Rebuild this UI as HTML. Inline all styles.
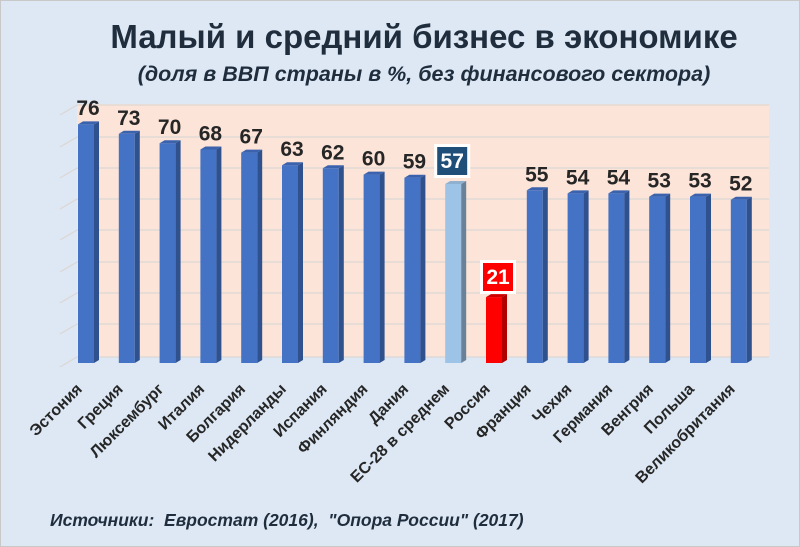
<!DOCTYPE html>
<html><head><meta charset="utf-8"><style>
html,body{margin:0;padding:0;background:#dde8f4;}
svg{display:block;}
text{font-family:"Liberation Sans",sans-serif;}
.v{font-size:21px;font-weight:bold;fill:#262626;text-anchor:middle;}
.l{font-size:16px;font-weight:bold;fill:#262626;text-anchor:end;}
.b rect{fill:#4472c4}.b .s{fill:#2f528f}.b .t{fill:#3a62ad}
</style></head><body>
<svg width="800" height="547" viewBox="0 0 800 547" xmlns="http://www.w3.org/2000/svg">
<rect x="0.5" y="0.5" width="799" height="546" fill="#dde8f4" stroke="#c8c8c8"/>
<text x="424" y="48" text-anchor="middle" font-size="33" font-weight="bold" fill="#1f2d3d">Малый и средний бизнес в экономике</text>
<text x="424" y="81" text-anchor="middle" font-size="21.5" font-weight="bold" font-style="italic" fill="#1f2d3d">(доля в ВВП страны в %, без финансового сектора)</text>
<rect x="77" y="104" width="692" height="253" fill="#fde4d8"/>
<g stroke="#dcd6d4" stroke-width="1.2">
<line x1="77" y1="105" x2="769" y2="105"/><line x1="77" y1="137" x2="769" y2="137"/>
<line x1="77" y1="168" x2="769" y2="168"/><line x1="77" y1="199" x2="769" y2="199"/>
<line x1="77" y1="230" x2="769" y2="230"/><line x1="77" y1="262" x2="769" y2="262"/>
<line x1="77" y1="293" x2="769" y2="293"/><line x1="77" y1="324" x2="769" y2="324"/>
<line x1="77" y1="357" x2="769" y2="357"/>
<line x1="60" y1="115" x2="77" y2="105"/><line x1="60" y1="147" x2="77" y2="137"/>
<line x1="60" y1="178" x2="77" y2="168"/><line x1="60" y1="209" x2="77" y2="199"/>
<line x1="60" y1="240" x2="77" y2="230"/><line x1="60" y1="272" x2="77" y2="262"/>
<line x1="60" y1="303" x2="77" y2="293"/><line x1="60" y1="334" x2="77" y2="324"/>
<line x1="60" y1="367" x2="77" y2="357"/>
</g>

<g class="b" transform="translate(78,0)"><rect y="124.4" width="16" height="238.6"/><polygon class="s" points="16,124.4 21,121.4 21,360 16,363"/><polygon class="t" points="0,124.4 5,121.4 21,121.4 16,124.4"/><text class="v" x="10" y="115">76</text><text class="l" transform="translate(5,390) rotate(-45)">Эстония</text></g>
<g class="b" transform="translate(118.8,0)"><rect y="133.8" width="16" height="229.2"/><polygon class="s" points="16,133.8 21,130.8 21,360 16,363"/><polygon class="t" points="0,133.8 5,130.8 21,130.8 16,133.8"/><text class="v" x="10" y="124.8">73</text><text class="l" transform="translate(5,390) rotate(-45)">Греция</text></g>
<g class="b" transform="translate(159.6,0)"><rect y="143.2" width="16" height="219.8"/><polygon class="s" points="16,143.2 21,140.2 21,360 16,363"/><polygon class="t" points="0,143.2 5,140.2 21,140.2 16,143.2"/><text class="v" x="10" y="134.2">70</text><text class="l" transform="translate(5,390) rotate(-45)">Люксембург</text></g>
<g class="b" transform="translate(200.4,0)"><rect y="149.5" width="16" height="213.5"/><polygon class="s" points="16,149.5 21,146.5 21,360 16,363"/><polygon class="t" points="0,149.5 5,146.5 21,146.5 16,149.5"/><text class="v" x="10" y="140.5">68</text><text class="l" transform="translate(5,390) rotate(-45)">Италия</text></g>
<g class="b" transform="translate(241.2,0)"><rect y="152.6" width="16" height="210.4"/><polygon class="s" points="16,152.6 21,149.6 21,360 16,363"/><polygon class="t" points="0,152.6 5,149.6 21,149.6 16,152.6"/><text class="v" x="10" y="143.6">67</text><text class="l" transform="translate(5,390) rotate(-45)">Болгария</text></g>
<g class="b" transform="translate(282,0)"><rect y="165.2" width="16" height="197.8"/><polygon class="s" points="16,165.2 21,162.2 21,360 16,363"/><polygon class="t" points="0,165.2 5,162.2 21,162.2 16,165.2"/><text class="v" x="10" y="156.2">63</text><text class="l" transform="translate(5,390) rotate(-45)">Нидерланды</text></g>
<g class="b" transform="translate(322.8,0)"><rect y="168.3" width="16" height="194.7"/><polygon class="s" points="16,168.3 21,165.3 21,360 16,363"/><polygon class="t" points="0,168.3 5,165.3 21,165.3 16,168.3"/><text class="v" x="10" y="159.3">62</text><text class="l" transform="translate(5,390) rotate(-45)">Испания</text></g>
<g class="b" transform="translate(363.6,0)"><rect y="174.6" width="16" height="188.4"/><polygon class="s" points="16,174.6 21,171.6 21,360 16,363"/><polygon class="t" points="0,174.6 5,171.6 21,171.6 16,174.6"/><text class="v" x="10" y="165.6">60</text><text class="l" transform="translate(5,390) rotate(-45)">Финляндия</text></g>
<g class="b" transform="translate(404.4,0)"><rect y="177.7" width="16" height="185.3"/><polygon class="s" points="16,177.7 21,174.7 21,360 16,363"/><polygon class="t" points="0,177.7 5,174.7 21,174.7 16,177.7"/><text class="v" x="10" y="168.7">59</text><text class="l" transform="translate(5,390) rotate(-45)">Дания</text></g>
<g transform="translate(445.2,0)"><rect y="184" width="16" height="179" fill="#9dc3e6"/><polygon fill="#6a8299" points="16,184 21,181 21,360 16,363"/><polygon fill="#8fb0cf" points="0,184 5,181 21,181 16,184"/><rect x="-11" y="144" width="36" height="34" fill="#fff"/><rect x="-8" y="147" width="30" height="28" fill="#1f4e79"/><text class="v" x="7" y="168" style="fill:#fff">57</text><text class="l" transform="translate(5,390) rotate(-45)">ЕС-28 в среднем</text></g>
<g transform="translate(486,0)"><rect y="297.1" width="16" height="65.9" fill="#ff0000"/><polygon fill="#b00000" points="16,297.1 21,294.1 21,360 16,363"/><polygon fill="#d00000" points="0,297.1 5,294.1 21,294.1 16,297.1"/><rect x="-6" y="260" width="36" height="34" fill="#fff"/><rect x="-3" y="263" width="30" height="28" fill="#ff0000"/><text class="v" x="12" y="284" style="fill:#fff">21</text><text class="l" transform="translate(5,390) rotate(-45)">Россия</text></g>
<g class="b" transform="translate(526.8,0)"><rect y="190.3" width="16" height="172.7"/><polygon class="s" points="16,190.3 21,187.3 21,360 16,363"/><polygon class="t" points="0,190.3 5,187.3 21,187.3 16,190.3"/><text class="v" x="10" y="181.3">55</text><text class="l" transform="translate(5,390) rotate(-45)">Франция</text></g>
<g class="b" transform="translate(567.6,0)"><rect y="193.4" width="16" height="169.6"/><polygon class="s" points="16,193.4 21,190.4 21,360 16,363"/><polygon class="t" points="0,193.4 5,190.4 21,190.4 16,193.4"/><text class="v" x="10" y="184.4">54</text><text class="l" transform="translate(5,390) rotate(-45)">Чехия</text></g>
<g class="b" transform="translate(608.4,0)"><rect y="193.4" width="16" height="169.6"/><polygon class="s" points="16,193.4 21,190.4 21,360 16,363"/><polygon class="t" points="0,193.4 5,190.4 21,190.4 16,193.4"/><text class="v" x="10" y="184.4">54</text><text class="l" transform="translate(5,390) rotate(-45)">Германия</text></g>
<g class="b" transform="translate(649.2,0)"><rect y="196.6" width="16" height="166.4"/><polygon class="s" points="16,196.6 21,193.6 21,360 16,363"/><polygon class="t" points="0,196.6 5,193.6 21,193.6 16,196.6"/><text class="v" x="10" y="187.6">53</text><text class="l" transform="translate(5,390) rotate(-45)">Венгрия</text></g>
<g class="b" transform="translate(690,0)"><rect y="196.6" width="16" height="166.4"/><polygon class="s" points="16,196.6 21,193.6 21,360 16,363"/><polygon class="t" points="0,196.6 5,193.6 21,193.6 16,196.6"/><text class="v" x="10" y="187.6">53</text><text class="l" transform="translate(5,390) rotate(-45)">Польша</text></g>
<g class="b" transform="translate(730.8,0)"><rect y="199.7" width="16" height="163.3"/><polygon class="s" points="16,199.7 21,196.7 21,360 16,363"/><polygon class="t" points="0,199.7 5,196.7 21,196.7 16,199.7"/><text class="v" x="10" y="190.7">52</text><text class="l" transform="translate(5,390) rotate(-45)">Великобритания</text></g>

<text x="50" y="526" font-size="17.5" font-weight="bold" font-style="italic" fill="#1f2d3d" xml:space="preserve">Источники:  Евростат (2016),  "Опора России" (2017)</text>
</svg>
</body></html>
